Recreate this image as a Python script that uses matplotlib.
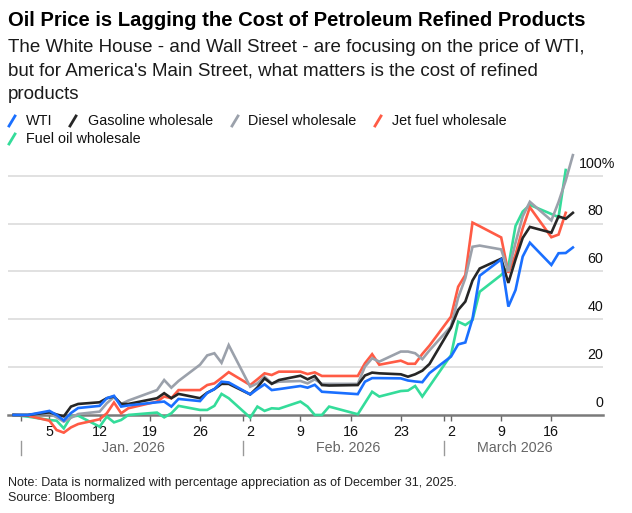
import datetime as dt
import matplotlib
matplotlib.use("Agg")
import matplotlib.pyplot as plt
import matplotlib.dates as mdates
import numpy as np
from matplotlib.lines import Line2D
from matplotlib import transforms

plt.rcParams['font.family'] = ['Liberation Sans', 'DejaVu Sans']

# trading days shown on the chart
dates = ["2025-12-31", "2026-01-02",
         "2026-01-05", "2026-01-06", "2026-01-07", "2026-01-08", "2026-01-09",
         "2026-01-12", "2026-01-13", "2026-01-14", "2026-01-15", "2026-01-16",
         "2026-01-20", "2026-01-21", "2026-01-22", "2026-01-23",
         "2026-01-26", "2026-01-27", "2026-01-28", "2026-01-29", "2026-01-30",
         "2026-02-02", "2026-02-03", "2026-02-04", "2026-02-05", "2026-02-06",
         "2026-02-09", "2026-02-10", "2026-02-11", "2026-02-12", "2026-02-13",
         "2026-02-17", "2026-02-18", "2026-02-19", "2026-02-20",
         "2026-02-23", "2026-02-24", "2026-02-25", "2026-02-26", "2026-02-27",
         "2026-03-02", "2026-03-03", "2026-03-04", "2026-03-05", "2026-03-06",
         "2026-03-09", "2026-03-10", "2026-03-11", "2026-03-12", "2026-03-13",
         "2026-03-16", "2026-03-17", "2026-03-18", "2026-03-19"]

wti = [0, 0,
       1.7, 0, -2.3, 0.8, 2.9,
       3.8, 7, 8, 3.5, 4,
       5.3, 5.6, 3.5, 6.7,
       5.8, 9.2, 10.8, 13.9, 13.6,
       8.6, 10.8, 12.8, 10.4, 10.8,
       12.1, 11.4, 12.6, 9.7, 9.5,
       8.7, 13.9, 15.4, 15.4,
       15.3, 14.4, 14.0, 13.7, 17.5,
       24.4, 29.5, 30.3, 40.2, 58.2,
       65.0, 45.3, 52.2, 66.2, 72,
       62.7, 67.6, 67.7, 70]

gasoline = [0, 0,
            1.1, 0.2, -0.6, 3.5, 4.6,
            5.3, 7, 7.7, 4.6, 4.6,
            7, 9.1, 7, 8.8,
            7, 9.3, 10.8, 13, 13,
            8.6, 11.5, 15.3, 13, 14.6,
            16.4, 14.9, 16.3, 12.5, 12.3,
            12.5, 16.5, 17.7, 17.4,
            17, 16, 17, 18.5, 21.3,
            36.5, 43.9, 47.4, 56.2, 61.2,
            65.3, 55.2, 65, 74, 78.6,
            76.2, 83, 82, 84.5]

diesel = [0, 0,
          0.7, -1, -2.8, -1.2, 0.4,
          1.4, 4.9, 7.5, 4.6, 6,
          10.4, 14.6, 11.4, 14.2,
          21, 24.9, 25.8, 21.8, 29.2,
          11.8, 13.2, 16, 13.2, 13.9,
          14.2, 13.2, 14.9, 13, 13,
          13, 20.2, 23.7, 22.3,
          26.5, 26.5, 25.8, 23.3, 27,
          37, 49, 57.2, 70.3, 70.8,
          69.2, 60, 72, 83, 89.1,
          81.3, 89, 98, 108.6]

jet_fuel = [0, -0.3,
            -2.4, -6.3, -7.4, -5.2, -3.8,
            -1.8, 0.7, 5.2, 0.7, 2.8,
            5.6, 7.7, 7, 10.4,
            10.4, 12.5, 13.2, 15.5, 17.9,
            12.5, 14.9, 17.4, 16.7, 18.1,
            18.1, 17.1, 17.8, 16.3, 16.3,
            16.3, 21.6, 25.4, 21,
            22.7, 21.4, 21.4, 25.5, 29,
            41.1, 53.6, 58.5, 80.4, 78.9,
            74.2, 59.4, 67, 78, 86.8,
            74.3, 75.4, 84.5, np.nan]

fuel_oil = [0, -0.7,
            -2.1, -2.4, -5.6, -0.7, -0.3,
            -4.9, -0.7, -3.1, -2.1, 0,
            1, -1, 0.7, 3.8,
            2.1, 2.1, 3.8, 8.8, 7,
            -1.1, 3.5, 1.7, 2.8, 2.6,
            5.6, 3.5, 0, 0, 3.5,
            0.3, 5, 9.7, 7.7,
            10, 10.2, 12.1, 7.7, 12,
            25, 39, 37.6, 39.7, 51.5,
            58.5, 62, 79, 85, 87.8,
            84, 82.7, 102.4, np.nan]

series = [
    ("Fuel oil wholesale", fuel_oil, "#34dc9a"),
    ("Jet fuel wholesale", jet_fuel, "#ff5b45"),
    ("Diesel wholesale", diesel, "#9ba1ab"),
    ("Gasoline wholesale", gasoline, "#262626"),
    ("WTI", wti, "#1a6fff"),
]

y_ticks = [0, 20, 40, 60, 80, 100]
week_ticks = ["2026-01-05", "2026-01-12", "2026-01-19", "2026-01-26",
              "2026-02-02", "2026-02-09", "2026-02-16", "2026-02-23",
              "2026-03-02", "2026-03-09", "2026-03-16"]
month_starts = ["2026-01-01", "2026-02-01", "2026-03-01"]
month_labels = ["Jan. 2026", "Feb. 2026", "March 2026"]

def to_dt(s):
    return dt.datetime.strptime(s, "%Y-%m-%d")

x = mdates.date2num([to_dt(s) for s in dates])

W, H = 632, 513
fig = plt.figure(figsize=(W / 100, H / 100), dpi=100)
ax = fig.add_axes([8 / W, 1 - 434.1 / H, 595 / W, 282.3 / H])

for name, vals, col in series:
    ax.plot(x, vals, color=col, lw=1.9, solid_joinstyle="miter", zorder=3)

x0 = mdates.date2num(to_dt("2025-12-31"))
ax.set_xlim(x0 - 0.78, x0 + 82.2)
ax.set_ylim(-8, 110)

# grid
ax.set_yticks(y_ticks[1:])
ax.yaxis.grid(True, color="#d9d9d9", lw=1.1)
ax.set_axisbelow(True)
ax.tick_params(axis="y", length=0, labelleft=False)
for s in ["top", "right", "left"]:
    ax.spines[s].set_visible(False)
ax.spines["bottom"].set_position(("data", 0))
ax.spines["bottom"].set_color("#7a7a7a")
ax.spines["bottom"].set_linewidth(1.8)
ax.spines["bottom"].set_zorder(2)

# x ticks
tick_pos = [mdates.date2num(to_dt(s)) for s in month_starts + week_ticks]
tick_lab = [""] * len(month_starts) + [str(to_dt(s).day) for s in week_ticks]
ax.set_xticks(tick_pos)
ax.set_xticklabels(tick_lab)
ax.tick_params(axis="x", direction="out", length=4, width=1, color="#666666",
               labelsize=10.3, labelcolor="#111111", pad=3)

# month labels and separators
xt = ax.get_xaxis_transform()
for s in month_starts:
    p = mdates.date2num(to_dt(s))
    ax.plot([p, p], [(434.1 - 441) / 282.3, (434.1 - 455) / 282.3],
            transform=xt, color="#999999", lw=1, clip_on=False)
month_centers = [16.65, 46.6, 69.9]
for c, lab in zip(month_centers, month_labels):
    ax.text(x0 + c, (434.1 - 448) / 282.3, lab, transform=xt, ha="center",
            va="center", fontsize=10.3, color="#666666")

# y labels, numbers right-aligned with the end of the grid, "%" hanging out
yt = transforms.offset_copy(ax.get_yaxis_transform(), fig=fig, x=0, y=8.8,
                            units="points")
for v in y_ticks[:-1]:
    ax.text(1.0, v, str(v), transform=yt, ha="right", va="center",
            fontsize=10.3, color="#111111")
yt_top = transforms.offset_copy(ax.get_yaxis_transform(), fig=fig, x=9.1, y=8.8,
                                units="points")
ax.text(1.0, y_ticks[-1], f"{y_ticks[-1]}%", transform=yt_top, ha="right",
        va="center", fontsize=10.3, color="#111111")

# titles
fig.text(8 / W, 1 - 20.5 / H, "Oil Price is Lagging the Cost of Petroleum Refined Products",
         fontsize=14.6, fontweight="bold", color="#000000", va="center")
sub = ["The White House - and Wall Street - are focusing on the price of WTI,",
       "but for America's Main Street, what matters is the cost of refined",
       "products"]
for i, line in enumerate(sub):
    fig.text(8 / W, 1 - (48 + 23.5 * i) / H, line, fontsize=13.5,
             color="#1a1a1a", va="center")

# legend
leg = [("WTI", "#1a6fff", 9, 26, 121), ("Gasoline wholesale", "#262626", 70, 88, 121),
       ("Diesel wholesale", "#9ba1ab", 232, 248, 121),
       ("Jet fuel wholesale", "#ff5b45", 375, 392, 121),
       ("Fuel oil wholesale", "#34dc9a", 9, 26, 139)]
for name, col, mx, tx, ty in leg:
    fig.add_artist(Line2D([mx / W, (mx + 6) / W], [1 - (ty + 5) / H, 1 - (ty - 5) / H],
                          color=col, lw=2, transform=fig.transFigure))
    fig.text(tx / W, 1 - ty / H, name, fontsize=10.4, color="#111111", va="center")

fig.text(8 / W, 1 - 483 / H,
         "Note: Data is normalized with percentage appreciation as of December 31, 2025.",
         fontsize=9, color="#222222", va="center")
fig.text(8 / W, 1 - 498.5 / H, "Source: Bloomberg", fontsize=9, color="#222222",
         va="center")

fig.savefig("out.png", dpi=100)
